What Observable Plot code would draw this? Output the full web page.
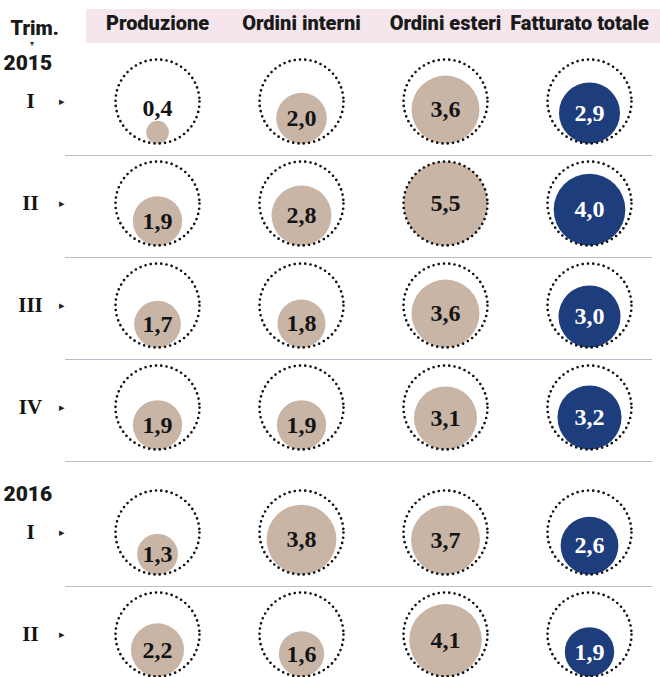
<!DOCTYPE html>
<html><head><meta charset="utf-8">
<script src="https://cdn.jsdelivr.net/npm/d3@7"></script>
<script src="https://cdn.jsdelivr.net/npm/@observablehq/plot@0.6"></script>
<style>
body{margin:0;background:#fff;}
#wrap{position:relative;width:660px;height:677px;overflow:hidden;background:#fff;}
#band{position:absolute;left:86px;top:9px;width:574px;height:34px;background:#f4e6ec;}
#wrap svg{position:absolute;left:0;top:0;background:transparent;}
</style></head><body><div id="wrap"><div id="band"></div></div>
<script>
// ---- data ----
const columns = ["Produzione", "Ordini interni", "Ordini esteri", "Fatturato totale"];
const years = ["2015", "2015", "2015", "2015", "2016", "2016"];
const quarters = ["I", "II", "III", "IV", "I", "II"];
const produzione = [0.4, 1.9, 1.7, 1.9, 1.3, 2.2];
const ordiniInterni = [2.0, 2.8, 1.8, 1.9, 3.8, 1.6];
const ordiniEsteri = [3.6, 5.5, 3.6, 3.1, 3.7, 4.1];
const fatturato = [2.9, 4.0, 3.0, 3.2, 2.6, 1.9];
const headerTitle = "Trim.";

// ---- layout ----
const W = 660, H = 677;
const R = 42;                 // outer dotted circle radius (px)
const marginTop = 101, marginBottom = 43, marginLeft = 65, marginRight = 8;
const yearGap = 0.225;        // extra space (in row units) before a new year
const series = [produzione, ordiniInterni, ordiniEsteri, fatturato];

const yearList = Array.from(new Set(years));
const rowPos = quarters.map((q, i) => i + yearList.indexOf(years[i]) * yearGap);
const yDomain = [0, d3.max(rowPos)];
const k = (H - marginTop - marginBottom) / (yDomain[1] - yDomain[0]); // px per row unit

const vmax = d3.max(series.flat());
const rPx = d3.scaleSqrt().domain([0, vmax]).range([0, R]);

const cells = [];
columns.forEach((c, ci) => {
  series[ci].forEach((v, i) => {
    const r = rPx(v);
    const innerY = rowPos[i] + (R - r) / k;
    const labelY = r < 16 ? rowPos[i] + (R - 2 * r - 13) / k : innerY;
    cells.push({col: c, row: i, pos: rowPos[i], v, innerY, labelY,
      fill: c === "Fatturato totale" ? "#1d3d7d" : "#c9b5a6",
      ink: c === "Fatturato totale" ? "#ffffff" : "#141414"});
  });
});
const rows = quarters.map((q, i) => ({q, pos: rowPos[i]}));
const yearStarts = yearList.map(y => ({year: y, pos: rowPos[years.indexOf(y)]}));
const seps = rowPos.slice(0, -1).map(p => p + (R + 12) / k);

const fmt = v => v.toFixed(1).replace(".", ",");
const sans = "Roboto, 'Liberation Sans', sans-serif";
const serif = "'Liberation Serif', 'DejaVu Serif', serif";

const chart = Plot.plot({
  width: W, height: H,
  marginTop, marginBottom, marginLeft, marginRight,
  x: {type: "point", domain: columns, padding: 0, insetLeft: 91, insetRight: 62, axis: null},
  y: {domain: yDomain, reverse: true, axis: null},
  r: {type: "sqrt", domain: [0, vmax], range: [0, R]},
  color: {type: "identity"},
  style: {background: "transparent"},
  marks: [
    Plot.ruleY(seps, {y: d => d, stroke: "#b9bdc9", strokeWidth: 1.1}),
    Plot.dot(cells, {x: "col", y: "innerY", r: "v", fill: "fill", stroke: "none"}),
    Plot.dot(cells, {x: "col", y: "pos", r: R, fill: "none", stroke: "#111",
      strokeWidth: 2.7, strokeDasharray: "0 5.3", strokeLinecap: "round"}),
    Plot.text(cells, {x: "col", y: "labelY", text: d => fmt(d.v), fill: "ink",
      fontFamily: serif, fontWeight: "bold", fontSize: 24}),
    Plot.text(rows, {y: "pos", text: "q", frameAnchor: "left", textAnchor: "middle", dx: -35,
      fontFamily: serif, fontWeight: "bold", fontSize: 21, fill: "#141414"}),
    Plot.text(rows, {y: "pos", text: () => "\u25B8", frameAnchor: "left", textAnchor: "middle", dx: -4,
      fontSize: 11, fill: "#222"}),
    Plot.text(yearStarts, {y: "pos", text: "year", frameAnchor: "left", textAnchor: "start", lineAnchor: "middle",
      dx: -62, dy: -38, fontFamily: sans, fontWeight: 900, fontSize: 21, fill: "#1a1a1a"}),
    Plot.text(columns.slice(0, -1), {x: d => d, text: d => d, frameAnchor: "top", lineAnchor: "middle", dy: -78,
      fontFamily: sans, fontWeight: 900, fontSize: 20, fill: "#1a1a1a"}),
    Plot.text(columns.slice(-1), {x: d => d, text: d => d, frameAnchor: "top", lineAnchor: "middle", dy: -78, dx: -10,
      fontFamily: sans, fontWeight: 900, fontSize: 20, fill: "#1a1a1a"}),
    Plot.text([headerTitle], {text: d => d, frameAnchor: "top-left", textAnchor: "start", lineAnchor: "middle",
      dx: -55, dy: -73, fontFamily: sans, fontWeight: 900, fontSize: 20, fill: "#1a1a1a"}),
    Plot.text([headerTitle], {text: () => "\u25BE", frameAnchor: "top-left", textAnchor: "middle", lineAnchor: "middle",
      dx: -34, dy: -58, fontSize: 8, fill: "#333"})
  ]
});
document.getElementById("wrap").appendChild(chart);
</script>
</body></html>
